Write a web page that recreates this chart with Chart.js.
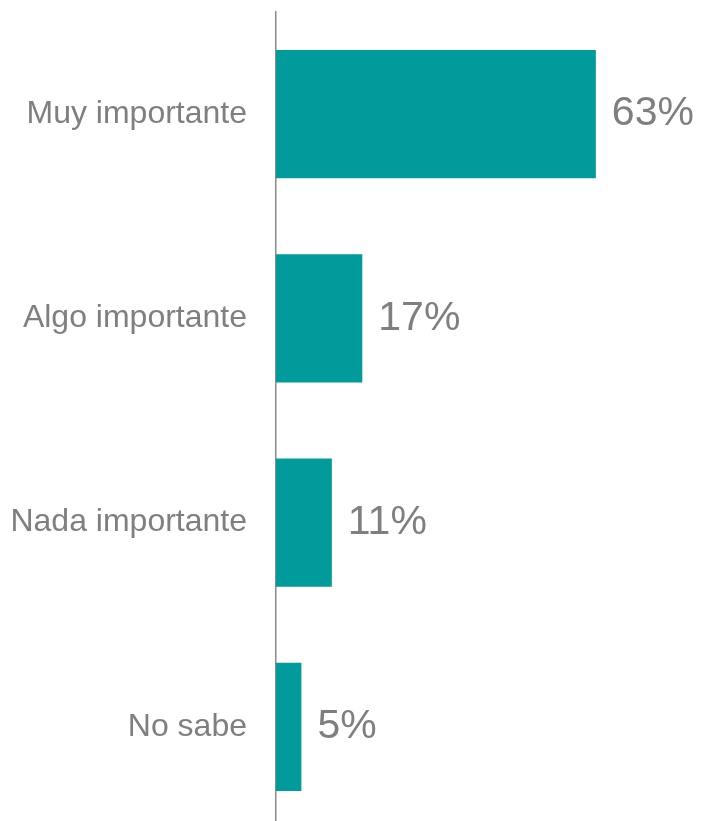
<!DOCTYPE html>
<html>
<head>
<meta charset="utf-8">
<script src="https://cdn.jsdelivr.net/npm/chart.js@4"></script>
<style>
    html, body { margin: 0; padding: 0; background: #fff; overflow: hidden; }
    canvas { display: block; }
</style>
</head>
<body>
<canvas id="importanciaChart" width="705" height="830"></canvas>
<script>
const categorias = ["Muy importante", "Algo importante", "Nada importante", "No sabe"];
const porcentajes = [63, 17, 11, 5];

const valueLabels = {
    id: "valueLabels",
    afterDatasetsDraw(chart) {
        const ctx = chart.ctx;
        const meta = chart.getDatasetMeta(0);
        ctx.save();
        ctx.font = "41px 'Liberation Sans', Arial, sans-serif";
        ctx.fillStyle = "#7f7f7f";
        ctx.textAlign = "left";
        ctx.textBaseline = "middle";
        meta.data.forEach((bar, i) => {
            ctx.fillText(porcentajes[i] + "%", bar.x + 16, bar.y);
        });
        ctx.restore();
    },
};

const ctx = document.getElementById("importanciaChart").getContext("2d");
new Chart(ctx, {
    type: "bar",
    data: {
        labels: categorias,
        datasets: [
            {
                data: porcentajes,
                backgroundColor: "#009b9a",
                borderWidth: 0,
                categoryPercentage: 1,
                barPercentage: 0.627,
            },
        ],
    },
    options: {
        indexAxis: "y",
        responsive: false,
        animation: false,
        devicePixelRatio: 1,
        layout: { padding: { top: 12, bottom: 1, left: 0, right: 0 } },
        plugins: {
            legend: { display: false },
            tooltip: { enabled: false },
        },
        scales: {
            x: {
                display: false,
                min: 0,
                max: 84.5,
            },
            y: {
                afterFit: (scale) => {
                    // keep the plot area where the reference has it
                    scale.width = 276;
                    scale.paddingTop = 0;
                    scale.paddingBottom = 0;
                },
                grid: { display: false, drawTicks: false },
                border: { display: true, color: "#8a8a8a", width: 1.5 },
                ticks: {
                    padding: 29,
                    color: "#7f7f7f",
                    font: { family: "'Liberation Sans', Arial, sans-serif", size: 32 },
                },
            },
        },
    },
    plugins: [valueLabels],
});
</script>
</body>
</html>
